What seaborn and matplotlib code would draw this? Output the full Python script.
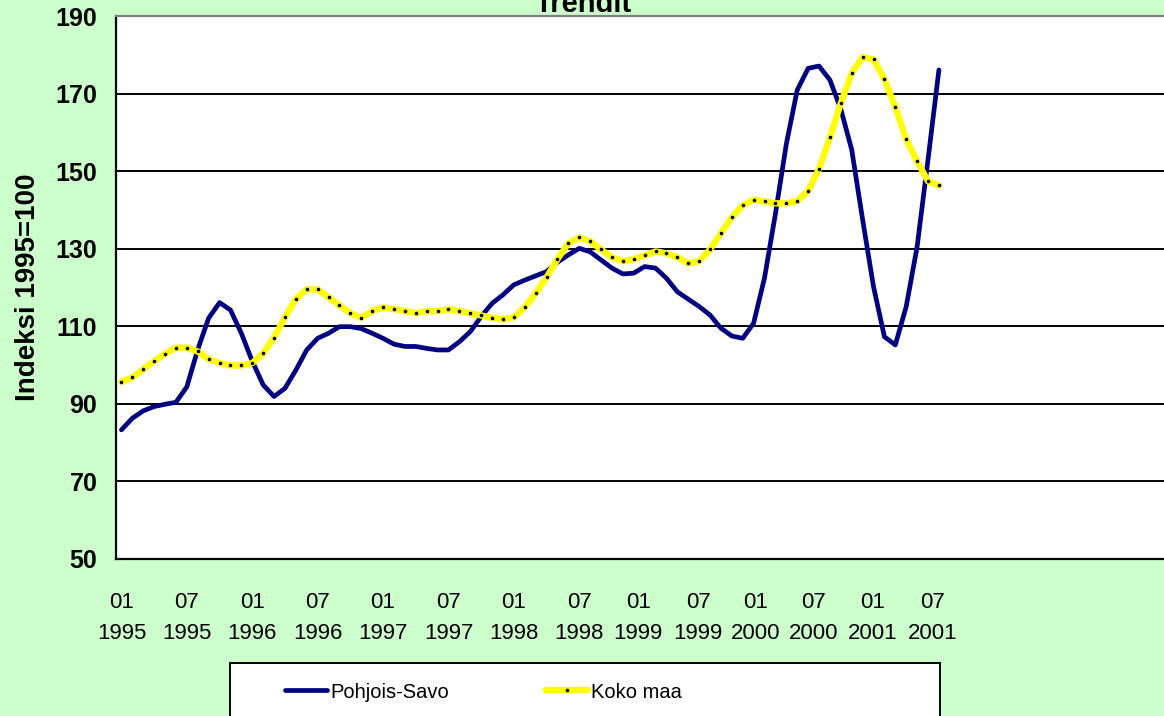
import matplotlib
matplotlib.use("Agg")
import matplotlib.pyplot as plt
from matplotlib.patches import Rectangle
import numpy as np
import pandas as pd
import seaborn as sns

# %%
# trend index 1995=100, monthly from 01/1995 to 04/2001
months = pd.period_range("1995-01", "2001-04", freq="M").astype(str).tolist()

pohjois_savo = [83.3, 86.3, 88.2, 89.3, 89.9, 90.4, 94.4, 104.0, 112.1, 116.1,
                114.2, 108.2, 101.0, 94.9, 91.9, 94.0, 98.7, 103.9, 106.9, 108.2,
                109.9, 109.9, 109.4, 108.2, 106.9, 105.4, 104.8, 104.8, 104.3, 103.9,
                103.9, 106.0, 108.6, 112.5, 115.9, 118.1, 120.7, 121.9, 123.0, 124.1,
                126.5, 128.4, 130.1, 129.2, 127.1, 125.0, 123.5, 123.7, 125.4, 125.0,
                122.4, 118.9, 117.0, 115.1, 112.9, 109.5, 107.5, 106.9, 110.8, 122.5,
                139.0, 157.0, 170.9, 176.5, 177.1, 173.5, 166.0, 155.5, 137.5, 120.2,
                107.3, 105.2, 115.1, 130.5, 153.0, 176.1]

koko_maa = [95.7, 96.8, 98.9, 101.0, 102.9, 104.5, 104.5, 103.5, 101.5, 100.5,
            99.9, 99.9, 100.5, 103.0, 107.1, 112.3, 117.0, 119.5, 119.5, 117.5,
            115.4, 113.4, 112.2, 113.9, 114.9, 114.4, 113.9, 113.4, 113.9, 113.9,
            114.4, 113.9, 113.4, 112.8, 112.2, 111.8, 112.3, 114.9, 118.5, 122.6,
            127.3, 131.4, 132.9, 131.9, 129.8, 127.8, 126.8, 127.3, 128.3, 129.3,
            128.8, 127.8, 126.2, 126.8, 129.8, 134.0, 138.1, 141.2, 142.6, 142.2,
            141.7, 141.7, 142.3, 144.9, 150.6, 158.7, 167.5, 175.2, 179.4, 178.8,
            173.7, 166.5, 158.2, 152.5, 147.4, 146.3]

# axis labels (Excel spread them a bit unevenly along the category axis)
label_text = ["01\n1995", "07\n1995", "01\n1996", "07\n1996", "01\n1997", "07\n1997",
              "01\n1998", "07\n1998", "01\n1999", "07\n1999", "01\n2000", "07\n2000",
              "01\n2001", "07\n2001"]
label_pos = [0, 6, 12, 18, 24, 30, 36, 42, 47.4, 52.9, 58.2, 63.5, 68.9, 74.4]
y_ticks = [50, 70, 90, 110, 130, 150, 170, 190]

df = pd.DataFrame({"kk": np.arange(len(months)), "kuukausi": months,
                   "Pohjois-Savo": pohjois_savo, "Koko maa": koko_maa})

# %%
sns.set_style("white")
plt.rcParams["font.family"] = ["Liberation Sans", "DejaVu Sans"]
plt.rcParams["text.color"] = "black"
plt.rcParams["axes.labelcolor"] = "black"
plt.rcParams["xtick.color"] = "black"
plt.rcParams["ytick.color"] = "black"

fig = plt.figure(figsize=(11.64, 7.16), dpi=100, facecolor="#CCFFCC")
ax = fig.add_axes([116 / 1164, 1 - 559 / 716, 1 - 116 / 1164, 543 / 716])
ax.set_facecolor("white")

sns.lineplot(data=df, x="kk", y="Pohjois-Savo", ax=ax, color="#000080", lw=3.4,
             label="Pohjois-Savo", legend=False,
             solid_joinstyle="round", solid_capstyle="round")
sns.lineplot(data=df, x="kk", y="Koko maa", ax=ax, color="#FFFF00", lw=4.6,
             label="Koko maa", legend=False, marker="o", markersize=2.6,
             markerfacecolor="black", markeredgecolor="black", markeredgewidth=0,
             solid_joinstyle="round", solid_capstyle="round")

ax.set_xlim(-0.5, 95.65)
ax.set_ylim(50, 190)
ax.set_yticks(y_ticks)
ax.set_yticklabels([str(v) for v in y_ticks], fontsize=18, fontweight="bold")
ax.set_xticks(label_pos)
ax.set_xticklabels(label_text, fontsize=16, linespacing=1.6)
ax.set_xticks(np.arange(-0.5, 96, 1), minor=True)
ax.tick_params(axis="x", which="major", length=0, pad=24, labelcolor="black")
ax.tick_params(axis="x", which="minor", length=5.5, width=1.5, direction="out", color="black")
ax.tick_params(axis="y", length=5.5, width=1.5, direction="out", color="black", pad=8,
               labelcolor="black")

ax.yaxis.grid(True, color="black", lw=1.4)
ax.xaxis.grid(False)
ax.yaxis.get_gridlines()[-1].set_visible(False)
ax.set_axisbelow(True)

ax.set_xlabel("")
ax.set_ylabel("Indeksi 1995=100", fontsize=20, fontweight="bold", va="center", color="black")
ax.yaxis.set_label_coords(-88 / 1048, 0.5)

for side in ["left", "bottom"]:
    ax.spines[side].set_color("black")
    ax.spines[side].set_linewidth(1.6)
ax.spines["top"].set_color("#808080")
ax.spines["top"].set_linewidth(1.6)
ax.spines["right"].set_visible(False)

fig.text(583 / 1164, 1 - 12 / 716, "Trendit", ha="center", va="baseline",
         fontsize=21, fontweight="bold", color="black")

# legend box at the bottom
fig.add_artist(Rectangle((230 / 1164, -0.05), 710 / 1164, 53 / 716 + 0.05,
                         transform=fig.transFigure, facecolor="white",
                         edgecolor="black", lw=1.4, zorder=0))
handles, labels = ax.get_legend_handles_labels()
leg = fig.legend(handles, labels, loc="center left", bbox_to_anchor=(285 / 1164, 1 - 692 / 716),
                 ncol=2, frameon=False, fontsize=14.5, handlelength=2.1, handletextpad=0.15,
                 columnspacing=4.8, borderpad=0, borderaxespad=0)
for t in leg.get_texts():
    t.set_color("black")

fig.savefig("out.png", dpi=100, facecolor=fig.get_facecolor())
